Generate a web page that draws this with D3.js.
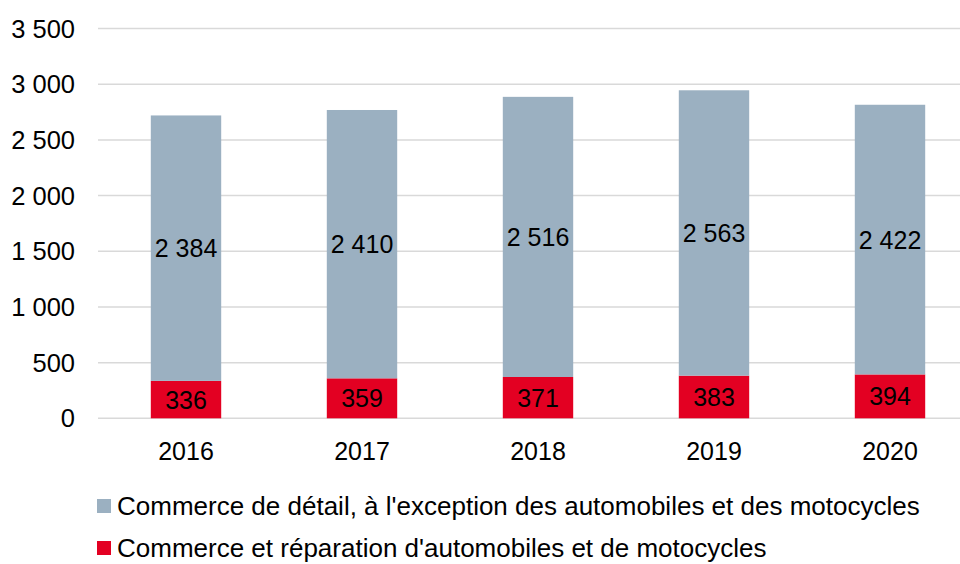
<!DOCTYPE html>
<html>
<head>
<meta charset="utf-8">
<script src="https://cdn.jsdelivr.net/npm/d3@7"></script>
<style>
  body { margin: 0; background: #fff; }
  text { font-family: "Liberation Sans", Arial, Helvetica, sans-serif; fill: #000; }
</style>
</head>
<body>
<div id="main"></div>
<script>

var years = ["2016", "2017", "2018", "2019", "2020"];
var moto = [336, 359, 371, 383, 394];
var detail = [2384, 2410, 2516, 2563, 2422];
var yTicks = [0, 500, 1000, 1500, 2000, 2500, 3000, 3500];
var seriesNames = ["Commerce de détail, à l'exception des automobiles et des motocycles",
                   "Commerce et réparation d'automobiles et de motocycles"];
var grey = "#9BB0C1";
var red = "#E30022";

var fr = d3.formatLocale({decimal: ",", thousands: " ", grouping: [3], currency: ["", ""]});
var fmt = fr.format(",d");

var svg = d3.select('#main')
  .append('svg')
  .attr("width", 960)
  .attr("height", 564);

var x = d3.scaleBand().domain(years).range([98, 978]).paddingInner(0.6).paddingOuter(0.3);
var y = d3.scaleLinear().domain([0, 3500]).range([418.3, 28.6]);

// grid
svg.append('g').selectAll('line')
  .data(yTicks)
  .enter()
  .append('line')
  .attr("x1", 98)
  .attr("x2", 960)
  .attr("y1", d => y(d))
  .attr("y2", d => y(d))
  .style("stroke", "#D9D9D9")
  .style("stroke-width", 1.5);

// y labels
svg.append('g').selectAll('text')
  .data(yTicks)
  .enter()
  .append('text')
  .text(d => fmt(d))
  .attr("x", 75)
  .attr("y", d => y(d))
  .attr("dy", "0.36em")
  .attr("text-anchor", "end")
  .style("font-size", "25.5px");

var rows = years.map((yr, i) => ({year: yr, moto: moto[i], detail: detail[i]}));

// red part
svg.append('g').selectAll('rect')
  .data(rows)
  .enter()
  .append('rect')
  .attr('x', d => x(d.year))
  .attr('width', x.bandwidth())
  .attr('y', d => y(d.moto))
  .attr('height', d => y(0) - y(d.moto))
  .style("fill", red);

// grey part
svg.append('g').selectAll('rect')
  .data(rows)
  .enter()
  .append('rect')
  .attr('x', d => x(d.year))
  .attr('width', x.bandwidth())
  .attr('y', d => y(d.moto + d.detail))
  .attr('height', d => y(d.moto) - y(d.moto + d.detail))
  .style("fill", grey);

// value labels
svg.append('g').selectAll('text')
  .data(rows)
  .enter()
  .append('text')
  .text(d => fmt(d.moto))
  .attr("x", d => x(d.year) + x.bandwidth() / 2)
  .attr("y", d => (y(0) + y(d.moto)) / 2)
  .attr("dy", "0.36em")
  .attr("text-anchor", "middle")
  .style("font-size", "25px");

svg.append('g').selectAll('text')
  .data(rows)
  .enter()
  .append('text')
  .text(d => fmt(d.detail))
  .attr("x", d => x(d.year) + x.bandwidth() / 2)
  .attr("y", d => (y(d.moto) + y(d.moto + d.detail)) / 2)
  .attr("dy", "0.36em")
  .attr("text-anchor", "middle")
  .style("font-size", "25px");

// x labels
svg.append('g').selectAll('text')
  .data(years)
  .enter()
  .append('text')
  .text(d => d)
  .attr("x", d => x(d) + x.bandwidth() / 2)
  .attr("y", 451)
  .attr("dy", "0.36em")
  .attr("text-anchor", "middle")
  .style("font-size", "25px");

// legend
var legend = svg.append('g').selectAll('g')
  .data(seriesNames)
  .enter()
  .append('g')
  .attr('transform', (d, i) => 'translate(97,' + (506 + i * 42) + ')');

legend.append('rect')
  .attr('x', 0)
  .attr('y', -7)
  .attr('width', 14)
  .attr('height', 14)
  .style('fill', (d, i) => i == 0 ? grey : red);

legend.append('text')
  .text(d => d)
  .attr('x', 20)
  .attr('y', 0)
  .attr('dy', '0.36em')
  .style('font-size', '26px');

</script>
</body>
</html>
